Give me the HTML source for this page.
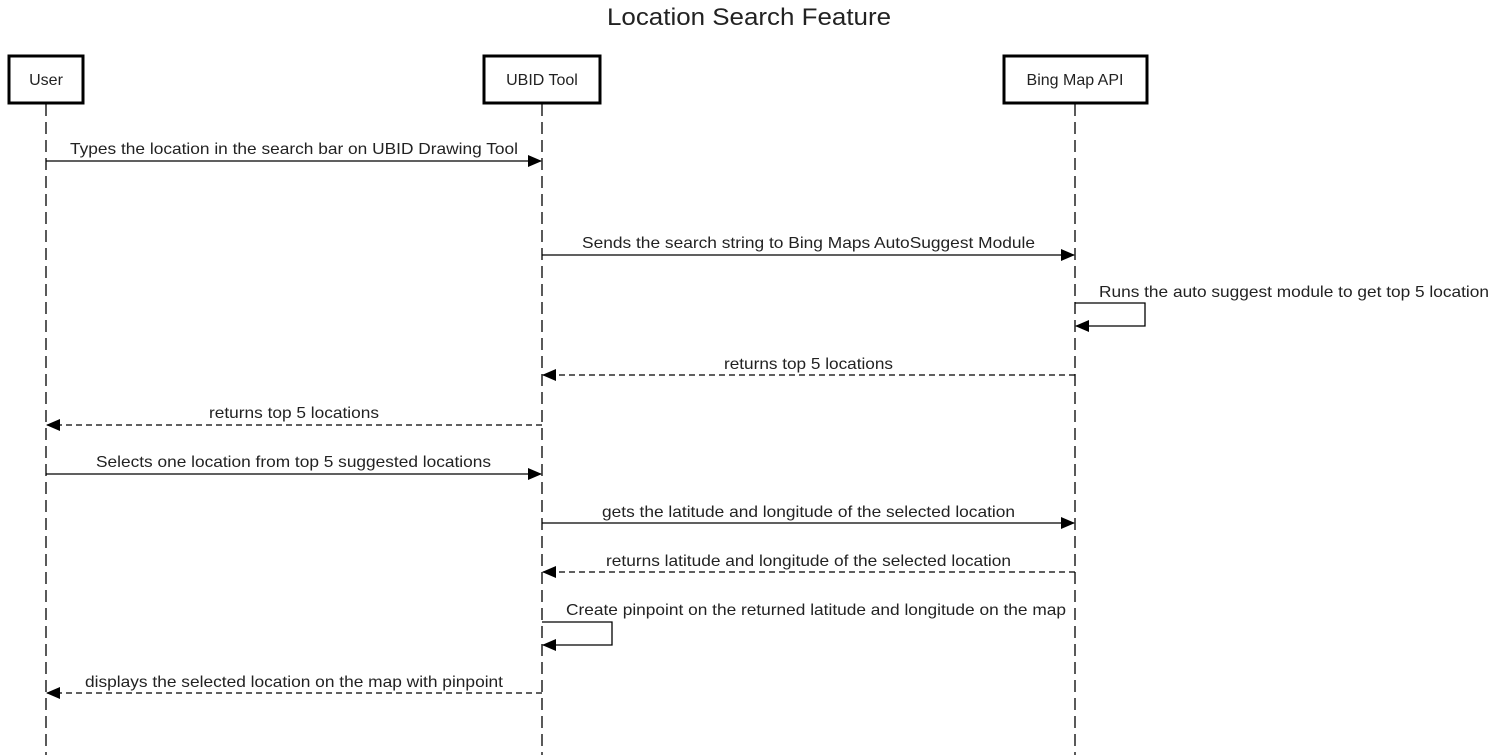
<!DOCTYPE html>
<html><head><style>body{margin:0;background:#fff}svg{display:block}text{font-family:"Liberation Sans",Arial,sans-serif;font-size:16px;fill:#222}</style></head>
<body>
<svg width="1498" height="755" xmlns="http://www.w3.org/2000/svg">
<defs><marker id="a" markerWidth="14" markerHeight="12" refX="13" refY="6" orient="auto" markerUnits="userSpaceOnUse"><path d="M0,0 L14,6 L0,12 z" fill="#000"/></marker></defs>
<text x="607" y="25" textLength="284" lengthAdjust="spacingAndGlyphs" style="font-size:24px">Location Search Feature</text>
<g stroke="#000" stroke-width="1.3" stroke-dasharray="12,6" fill="none">
<line x1="46" y1="104" x2="46" y2="755"/><line x1="542" y1="104" x2="542" y2="755"/><line x1="1075" y1="104" x2="1075" y2="755"/>
</g>
<g stroke="#000" stroke-width="3" fill="#fff">
<rect x="9" y="56" width="74" height="47"/><rect x="484" y="56" width="116" height="47"/><rect x="1004" y="56" width="143" height="47"/>
</g>
<text x="46" y="85" text-anchor="middle">User</text>
<text x="542" y="85" text-anchor="middle">UBID Tool</text>
<text x="1075" y="85" text-anchor="middle">Bing Map API</text>
<g stroke="#000" stroke-width="1.3" fill="none" marker-end="url(#a)">
<line x1="46" y1="161" x2="541" y2="161"/>
<line x1="542" y1="255" x2="1074" y2="255"/>
<polyline points="1075,303 1145,303 1145,326 1076,326"/>
<line x1="1075" y1="375" x2="543" y2="375" stroke-dasharray="6,4"/>
<line x1="542" y1="425" x2="47" y2="425" stroke-dasharray="6,4"/>
<line x1="46" y1="474" x2="541" y2="474"/>
<line x1="542" y1="523" x2="1074" y2="523"/>
<line x1="1075" y1="572" x2="543" y2="572" stroke-dasharray="6,4"/>
<polyline points="542,622 612,622 612,645 543,645"/>
<line x1="542" y1="693" x2="47" y2="693" stroke-dasharray="6,4"/>
</g>
<g lengthAdjust="spacingAndGlyphs">
<text x="70" y="154" textLength="448" lengthAdjust="spacingAndGlyphs">Types the location in the search bar on UBID Drawing Tool</text>
<text x="582" y="248" textLength="453" lengthAdjust="spacingAndGlyphs">Sends the search string to Bing Maps AutoSuggest Module</text>
<text x="1099" y="297" textLength="390" lengthAdjust="spacingAndGlyphs">Runs the auto suggest module to get top 5 location</text>
<text x="724" y="369" textLength="169" lengthAdjust="spacingAndGlyphs">returns top 5 locations</text>
<text x="209" y="418" textLength="170" lengthAdjust="spacingAndGlyphs">returns top 5 locations</text>
<text x="96" y="467" textLength="395" lengthAdjust="spacingAndGlyphs">Selects one location from top 5 suggested locations</text>
<text x="602" y="517" textLength="413" lengthAdjust="spacingAndGlyphs">gets the latitude and longitude of the selected location</text>
<text x="606" y="566" textLength="405" lengthAdjust="spacingAndGlyphs">returns latitude and longitude of the selected location</text>
<text x="566" y="615" textLength="500" lengthAdjust="spacingAndGlyphs">Create pinpoint on the returned latitude and longitude on the map</text>
<text x="85" y="687" textLength="418" lengthAdjust="spacingAndGlyphs">displays the selected location on the map with pinpoint</text>
</g>
</svg>
</body></html>
